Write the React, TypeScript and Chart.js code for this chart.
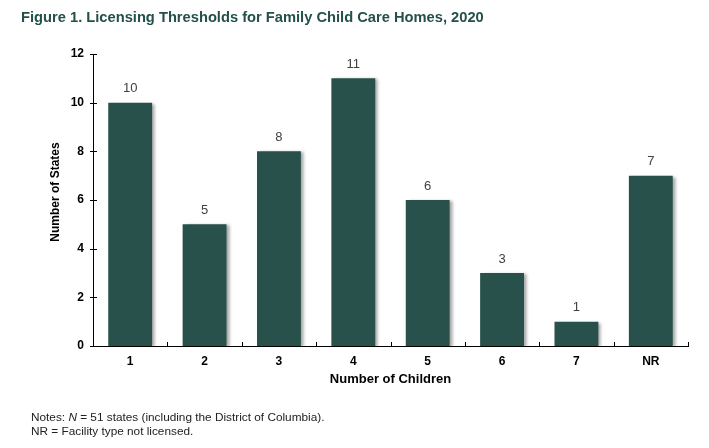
import React, { useEffect, useRef } from "react";
import { Chart, registerables } from "chart.js";

Chart.register(...registerables);

const categories = ["1", "2", "3", "4", "5", "6", "7", "NR"];
const states = [10, 5, 8, 11, 6, 3, 1, 7];
const yTicks = [0, 2, 4, 6, 8, 10, 12];
const yTitle = "Number of States";

const FONT = '"Liberation Sans", Arial, Helvetica, sans-serif';
const BAR = "#27514a";

const shadowPlugin = {
  id: "barShadow",
  beforeDatasetDraw(chart: any) {
    const ctx = chart.ctx;
    ctx.save();
    ctx.shadowColor = "rgba(0,0,0,0.35)";
    ctx.shadowOffsetX = 3;
    ctx.shadowOffsetY = 1;
    ctx.shadowBlur = 3;
  },
  afterDatasetDraw(chart: any) {
    chart.ctx.restore();
  },
};

const labelsPlugin = {
  id: "valueLabels",
  afterDatasetsDraw(chart: any) {
    const ctx = chart.ctx;
    const meta = chart.getDatasetMeta(0);
    ctx.save();
    ctx.font = `13px ${FONT}`;
    ctx.fillStyle = "#404040";
    ctx.textAlign = "center";
    ctx.textBaseline = "middle";
    meta.data.forEach((bar: any, i: number) => {
      ctx.fillText(String(states[i]), bar.x, bar.y - 14);
    });
    ctx.restore();
  },
};

const ticksPlugin = {
  id: "customTicks",
  afterDraw(chart: any) {
    const ctx = chart.ctx;
    const x = chart.scales.x;
    const y = chart.scales.y;
    ctx.save();
    ctx.strokeStyle = "#000";
    ctx.lineWidth = 1;
    ctx.beginPath();
    for (let i = 1; i <= categories.length; i++) {
      const px = Math.round(x.getPixelForValue(i - 0.5)) + 0.5;
      ctx.moveTo(px, y.bottom);
      ctx.lineTo(px, y.bottom - 4);
    }
    yTicks.forEach((v) => {
      const py = Math.round(y.getPixelForValue(v)) + 0.5;
      ctx.moveTo(x.left - 3, py);
      ctx.lineTo(x.left + 4, py);
    });
    ctx.stroke();
    // y axis title
    ctx.translate(56, (y.top + y.bottom) / 2 - 8);
    ctx.rotate(-Math.PI / 2);
    ctx.font = `bold 12px ${FONT}`;
    ctx.fillStyle = "#000";
    ctx.textAlign = "center";
    ctx.textBaseline = "middle";
    ctx.fillText(yTitle, 0, 0);
    ctx.restore();
  },
};

export default function App() {
  const ref = useRef<HTMLCanvasElement | null>(null);

  useEffect(() => {
    document.body.style.margin = "0";
    if (!ref.current) return;
    const chart = new Chart(ref.current, {
      type: "bar",
      data: {
        labels: categories,
        datasets: [
          {
            data: states,
            backgroundColor: BAR,
            borderWidth: 0,
            barPercentage: 0.59,
            categoryPercentage: 1,
          },
        ],
      },
      options: {
        animation: false,
        responsive: false,
        devicePixelRatio: 1,
        layout: { padding: { left: 43, right: 21, top: 54, bottom: 52 } },
        plugins: {
          legend: { display: false },
          title: { display: false },
          tooltip: { enabled: false },
        },
        scales: {
          x: {
            afterFit: (s: any) => {
              s.height = 50;
            },
            grid: { display: false, drawTicks: false },
            border: { display: true, color: "#000", width: 1 },
            ticks: {
              color: "#000",
              font: { family: FONT, size: 12, weight: "bold" },
              padding: 8,
            },
            title: {
              display: true,
              text: "Number of Children",
              color: "#000",
              font: { family: FONT, size: 13, weight: "bold" },
              padding: { top: 0, bottom: 9 },
            },
          },
          y: {
            min: 0,
            max: 12,
            afterFit: (s: any) => {
              s.width = 50;
            },
            grid: { display: false, drawTicks: false },
            border: { display: true, color: "#000", width: 1 },
            ticks: {
              stepSize: 2,
              color: "#000",
              font: { family: FONT, size: 12, weight: "bold" },
              padding: 9,
            },
            title: { display: false },
          },
        },
      } as any,
      plugins: [shadowPlugin, labelsPlugin, ticksPlugin],
    });
    return () => chart.destroy();
  }, []);

  return (
    <div style={{ position: "relative", width: 709, height: 448, background: "#fff", overflow: "hidden" }}>
      <canvas ref={ref} width={709} height={448} style={{ position: "absolute", left: 0, top: 0 }} />
      <div
        style={{
          position: "absolute",
          left: 21,
          top: 8,
          fontFamily: FONT,
          fontSize: 14.7,
          fontWeight: "bold",
          color: "#24504b",
          lineHeight: "18px",
          whiteSpace: "nowrap",
        }}
      >
        Figure 1. Licensing Thresholds for Family Child Care Homes, 2020
      </div>
      <div
        style={{
          position: "absolute",
          left: 31,
          top: 410,
          fontFamily: FONT,
          fontSize: 11.8,
          color: "#222",
          lineHeight: "14px",
          whiteSpace: "nowrap",
        }}
      >
        <div>
          Notes: <i>N</i> = 51 states (including the District of Columbia).
        </div>
        <div>NR = Facility type not licensed.</div>
      </div>
    </div>
  );
}
